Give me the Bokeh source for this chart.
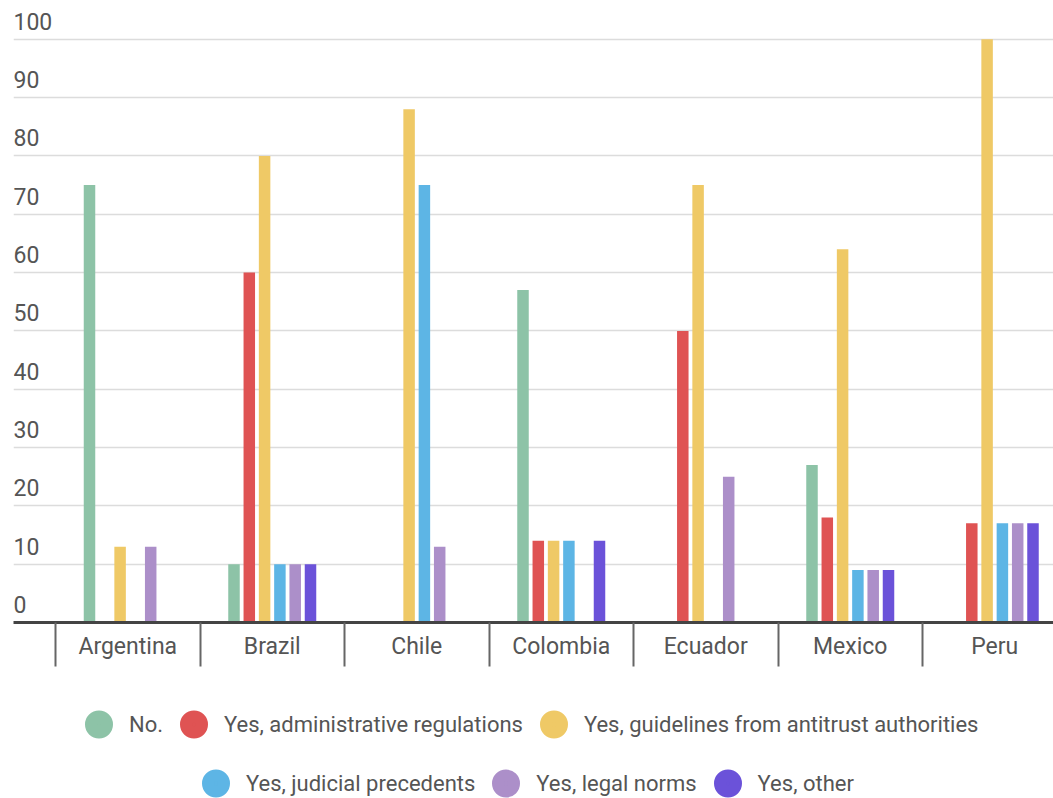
import numpy as np
from bokeh.plotting import figure
from bokeh.layouts import column
from bokeh.models import (Range1d, FixedTicker, LinearAxis, Grid, Legend, LegendItem,
                          ColumnDataSource)
from bokeh.core.properties import value
from bokeh.embed import file_html
from bokeh.resources import INLINE

# ---- data ----
categories = ["Argentina", "Brazil", "Chile", "Colombia", "Ecuador", "Mexico", "Peru"]
series_names = ["No.", "Yes, administrative regulations",
                "Yes, guidelines from antitrust authorities",
                "Yes, judicial precedents", "Yes, legal norms", "Yes, other"]
no_values = [75, 10, 0, 57, 0, 27, 0]
admin_values = [0, 60, 0, 14, 50, 18, 17]
guidelines_values = [13, 80, 88, 14, 75, 64, 100]
judicial_values = [0, 10, 75, 14, 0, 9, 17]
legal_values = [13, 10, 13, 0, 25, 9, 17]
other_values = [0, 10, 0, 14, 0, 9, 17]
y_ticks = [0, 10, 20, 30, 40, 50, 60, 70, 80, 90, 100]
y_tick_labels = [str(t) for t in y_ticks]

series_values = [no_values, admin_values, guidelines_values,
                 judicial_values, legal_values, other_values]
colors = ["#8DC3A7", "#DF5353", "#EFC966", "#5DB5E5", "#AC8FC9", "#6B52D9"]

# ---- layout constants ----
W = 1053
MAIN_H = 680
LEG_H = 798 - MAIN_H
left_border, top_border = 13, 5
frame_bottom = 622
cat_px = 144.5
x_start = -(55 - left_border) / cat_px
x_end = x_start + (W - left_border) / cat_px
y_end = 105.8
FONT = "Roboto"
TXT = "#555555"

p = figure(width=W, height=MAIN_H, output_backend="svg", toolbar_location=None,
           x_range=Range1d(x_start, x_end), y_range=Range1d(0, y_end),
           x_axis_location=None, y_axis_location=None,
           min_border_left=left_border, min_border_right=0,
           min_border_top=top_border, min_border_bottom=MAIN_H - frame_bottom)
p.outline_line_color = None
p.background_fill_color = "white"
p.border_fill_color = "white"
for g in list(p.xgrid) + list(p.ygrid):
    g.visible = False

# horizontal grid
grid = Grid(dimension=1, ticker=FixedTicker(ticks=y_ticks[1:]),
            grid_line_color="#dcdcdc", grid_line_width=1.5)
p.add_layout(grid, "center")

# y tick labels drawn above the grid lines
p.text(x=[x_start] * len(y_ticks), y=y_ticks, text=y_tick_labels,
       text_font=value(FONT), text_font_size="23px", text_color=TXT,
       text_align="left", text_baseline="middle", y_offset=-18)

# x axis
n = len(categories)
centers = [i + 0.5 for i in range(n)]
bounds = [float(i) for i in range(n + 1)]
xaxis = LinearAxis(ticker=FixedTicker(ticks=centers, minor_ticks=bounds))
xaxis.major_label_overrides = {c: name for c, name in zip(centers, categories)}
xaxis.major_tick_line_color = None
xaxis.major_tick_out = 0
xaxis.major_tick_in = 0
xaxis.minor_tick_in = 0
xaxis.minor_tick_out = 44
xaxis.minor_tick_line_color = "#666666"
xaxis.minor_tick_line_width = 2
xaxis.axis_line_color = "#444444"
xaxis.axis_line_width = 3
xaxis.major_label_text_font = FONT
xaxis.major_label_text_font_size = "23px"
xaxis.major_label_text_color = TXT
xaxis.major_label_standoff = -34
p.add_layout(xaxis, "below")

# bars
bar_step = 15.3 / cat_px
bar_w = 11.5 / cat_px
k = len(series_values)
for j, (vals, col) in enumerate(zip(series_values, colors)):
    xs = np.arange(n) + 0.5 + (j - (k - 1) / 2) * bar_step
    p.vbar(x=xs, top=vals, bottom=0, width=bar_w, fill_color=col, line_color=None)

# legend figure (circle markers)
lf = figure(width=W, height=LEG_H, output_backend="svg", toolbar_location=None,
            x_axis_location=None, y_axis_location=None,
            x_range=Range1d(0, 1), y_range=Range1d(0, 1),
            min_border=0, min_border_left=0, min_border_right=0,
            min_border_top=0, min_border_bottom=0)
lf.outline_line_color = None
lf.background_fill_color = "white"
lf.border_fill_color = "white"
for g in list(lf.xgrid) + list(lf.ygrid):
    g.visible = False

items = []
for name, col in zip(series_names, colors):
    src = ColumnDataSource(dict(x=np.array([np.nan]), y=np.array([np.nan])))
    r = lf.scatter(x="x", y="y", source=src, marker="circle", size=10,
                   fill_color=col, line_color=col, line_width=12)
    items.append(LegendItem(label=name, renderers=[r]))

GH = 40
GW = 61

def make_legend(its, loc):
    return Legend(items=its, location=loc, orientation="horizontal",
                  glyph_width=GW, glyph_height=GH, label_height=GH,
                  label_standoff=0, spacing=0, padding=0, margin=0,
                  border_line_color=None, background_fill_alpha=0,
                  label_text_font=FONT, label_text_font_size="22px",
                  label_text_color=TXT)

row1_center = 724 - MAIN_H
row2_center = 783 - MAIN_H
lf.add_layout(make_legend(items[:3], (55, LEG_H - (row1_center + GH / 2))), "center")
lf.add_layout(make_legend(items[3:], (172, LEG_H - (row2_center + GH / 2))), "center")

layout = column(p, lf, spacing=0)
open("out.html", "w").write(file_html(layout, INLINE))
